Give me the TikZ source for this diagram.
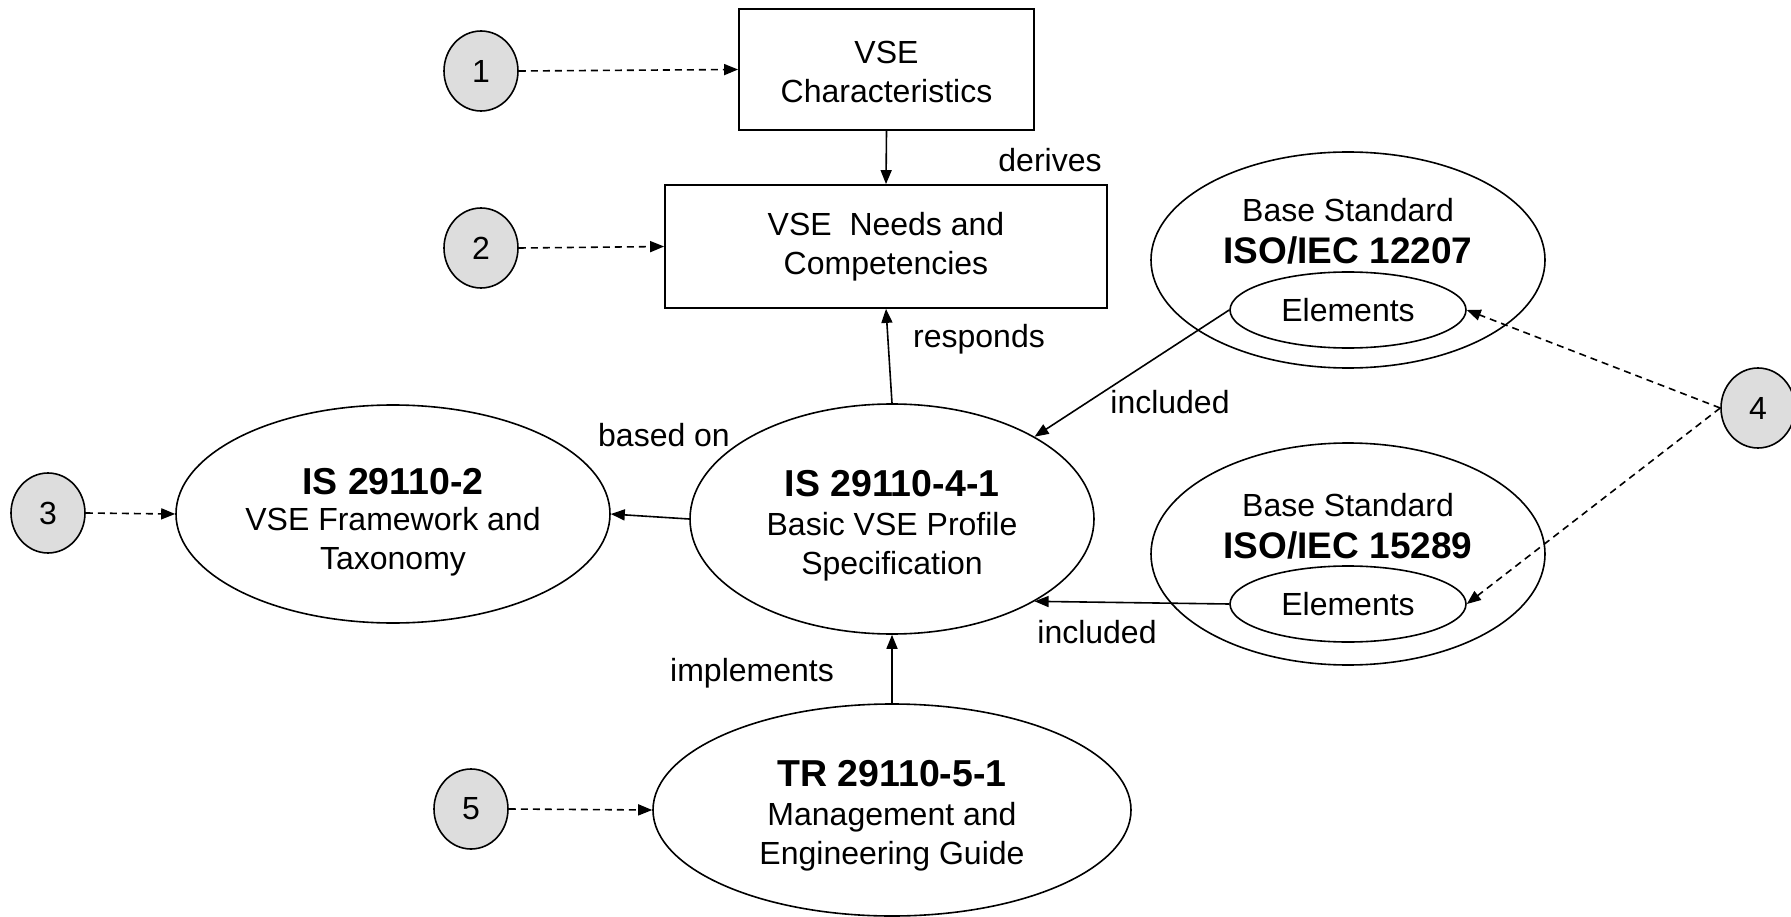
\documentclass[tikz,border=0pt]{standalone}
\usepackage{fontspec}
\setmainfont{Liberation Sans}
\usetikzlibrary{shapes.geometric,arrows.meta}
\definecolor{numfill}{HTML}{DDDDDD}
\newcommand{\ttlfont}{\bfseries\fontsize{37.5}{42}\selectfont}
\begin{document}
\begin{tikzpicture}[x=1pt,y=-1pt,
  every node/.style={font=\fontsize{32}{39}\selectfont, inner sep=0pt},
  numc/.style={ellipse, draw, line width=1.6pt, fill=numfill, minimum width=74pt, minimum height=80pt},
  boxn/.style={rectangle, draw, line width=1.8pt, align=center},
  ell/.style={ellipse, draw, line width=1.6pt, align=center},
  conn/.style={line width=1.6pt, -{Triangle[length=14pt,width=11pt]}},
  dconn/.style={line width=1.6pt, dash pattern=on 7pt off 5pt, -{Triangle[length=14pt,width=11pt]}}
]
\useasboundingbox (0,0) rectangle (1791,917);

% numbered circles
\node[numc] (c1) at (481,71) {1};
\node[numc] (c2) at (481,248) {2};
\node[numc] (c3) at (48,513) {3};
\node[numc] (c4) at (1758,408) {4};
\node[numc] (c5) at (471,809) {5};

% boxes
\node[boxn, minimum width=295pt, minimum height=121pt] (box1) at (886.5,69.5) {};
\node[align=center] (box1t) at (886.5,72) {VSE\\Characteristics};
\node[boxn, minimum width=442pt, minimum height=123pt] (box2) at (886,246.5) {VSE\ \ Needs and\\Competencies};

% main ellipses
\node[ell, minimum width=404pt, minimum height=230pt] (E41) at (892,519) {};
\node[align=center] (E41t) at (892,526) {{\ttlfont IS 29110-4-1}\\Basic VSE Profile\\Specification};

\node[ell, minimum width=434pt, minimum height=218pt] (E2) at (393,514) {};
\node[align=center] (E2t) at (393,522) {{\ttlfont IS 29110-2}\\[-3pt]VSE Framework and\\Taxonomy};

\node[ell, minimum width=478pt, minimum height=212pt] (TR) at (892,810) {};
\node[align=center] (TRt) at (892,816) {{\ttlfont TR 29110-5-1}\\Management and\\Engineering Guide};

% base standards
\node[ell, minimum width=394pt, minimum height=216pt] (iso1) at (1348,260) {};
\node[align=center] (iso1t) at (1348,231) {Base Standard\\[3pt]{\bfseries\fontsize{37}{42}\selectfont ISO/IEC 12207}};
\node[ell, minimum width=236pt, minimum height=76pt] (el1) at (1348,310) {Elements};

\node[ell, minimum width=394pt, minimum height=222pt] (iso2) at (1348,554) {};
\node[align=center] (iso2t) at (1348,526) {Base Standard\\[3pt]{\bfseries\fontsize{37}{42}\selectfont ISO/IEC 15289}};
\node[ell, minimum width=236pt, minimum height=76pt] (el2) at (1348,604) {Elements};

% dashed connectors
\draw[dconn] (c1.east) -- (box1.west);
\draw[dconn] (c2.east) -- (box2.west);
\draw[dconn] (c3.east) -- (E2.west);
\draw[dconn] (c5.east) -- (TR.west);
\draw[dconn] (c4.west) -- (el1.east);
\draw[dconn] (c4.west) -- (el2.east);

% solid connectors
\draw[conn] (box1.south) -- (box2.north);
\draw[conn] (E41.north) -- (box2.south);
\draw[conn] (E41.west) -- (E2.east);
\draw[conn] (TR.north) -- (E41.south);
\draw[conn] (el1.west) -- (E41.30);
\draw[conn] (el2.west) -- (E41.-30);

% labels
\node (lderives) at (1050,160) {derives};
\node (lresponds) at (979,339) {responds};
\node (lbased) at (664,435) {based on};
\node (linc1) at (1170,402) {included};
\node (linc2) at (1097,632) {included};
\node (limpl) at (752,673) {implements};
\end{tikzpicture}
\end{document}
